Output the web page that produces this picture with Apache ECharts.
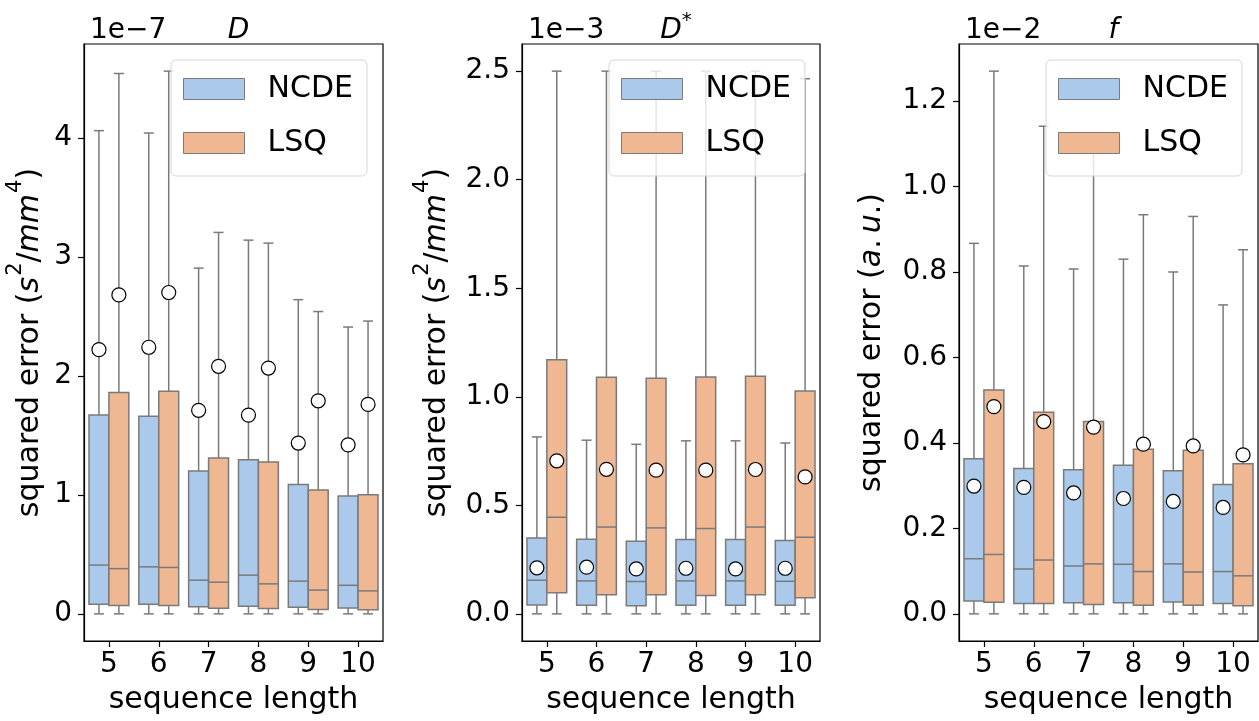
<!DOCTYPE html>
<html>
<head>
<meta charset="utf-8">
<script src="https://cdn.jsdelivr.net/npm/echarts@6/dist/echarts.min.js"></script>
<style>
html,body{margin:0;padding:0;background:#fff;}
#chart{width:1259px;height:721px;}
</style>
</head>
<body>
<div id="chart"></div>
<script>
// ---------------- data ----------------
const categories = ['5', '6', '7', '8', '9', '10'];
// each row: [lower whisker, Q1, median, Q3, upper whisker, mean]
// Panel D (units of 1e-7 s^2/mm^4)
const D_NCDE = [
  [0, 0.080, 0.410, 1.670, 4.060, 2.220],
  [0, 0.080, 0.395, 1.660, 4.040, 2.240],
  [0, 0.060, 0.283, 1.200, 2.905, 1.710],
  [0, 0.065, 0.325, 1.295, 3.140, 1.670],
  [0, 0.055, 0.275, 1.087, 2.640, 1.435],
  [0, 0.050, 0.240, 0.990, 2.410, 1.420]
];
const D_LSQ = [
  [0, 0.070, 0.380, 1.860, 4.540, 2.680],
  [0, 0.070, 0.390, 1.870, 4.560, 2.700],
  [0, 0.048, 0.266, 1.310, 3.205, 2.080],
  [0, 0.045, 0.252, 1.275, 3.115, 2.065],
  [0, 0.037, 0.200, 1.040, 2.540, 1.790],
  [0, 0.035, 0.193, 1.000, 2.460, 1.760]
];
// Panel D* (units of 1e-3 s^2/mm^4)
const Dstar_NCDE = [
  [0, 0.041, 0.155, 0.350, 0.815, 0.212],
  [0, 0.040, 0.152, 0.344, 0.800, 0.215],
  [0, 0.037, 0.149, 0.335, 0.781, 0.207],
  [0, 0.040, 0.152, 0.342, 0.797, 0.210],
  [0, 0.040, 0.152, 0.342, 0.797, 0.207],
  [0, 0.040, 0.150, 0.338, 0.787, 0.210]
];
const Dstar_LSQ = [
  [0, 0.097, 0.445, 1.171, 2.500, 0.705],
  [0, 0.088, 0.400, 1.090, 2.500, 0.666],
  [0, 0.088, 0.396, 1.085, 2.500, 0.662],
  [0, 0.085, 0.393, 1.091, 2.500, 0.662],
  [0, 0.088, 0.400, 1.094, 2.500, 0.665],
  [0, 0.074, 0.353, 1.027, 2.465, 0.631]
];
// Panel f (units of 1e-2 a.u.)
const f_NCDE = [
  [0, 0.030, 0.129, 0.363, 0.867, 0.299],
  [0, 0.024, 0.105, 0.340, 0.814, 0.296],
  [0, 0.026, 0.112, 0.337, 0.807, 0.283],
  [0, 0.026, 0.116, 0.348, 0.830, 0.270],
  [0, 0.028, 0.117, 0.335, 0.800, 0.263],
  [0, 0.024, 0.099, 0.303, 0.723, 0.249]
];
const f_LSQ = [
  [0, 0.027, 0.139, 0.524, 1.270, 0.485],
  [0, 0.024, 0.126, 0.472, 1.141, 0.450],
  [0, 0.022, 0.117, 0.450, 1.087, 0.437],
  [0, 0.020, 0.099, 0.385, 0.934, 0.397],
  [0, 0.020, 0.098, 0.383, 0.930, 0.393],
  [0, 0.019, 0.089, 0.351, 0.852, 0.372]
];
// tick labels
const D_ticks = [0, 1, 2, 3, 4];
const Dstar_ticks = [0, 0.5, 1.0, 1.5, 2.0, 2.5];
const f_ticks = [0, 0.2, 0.4, 0.6, 0.8, 1.0, 1.2];
const offsetTexts = ['1e\u22127', '1e\u22123', '1e\u22122'];
const seriesNames = ['NCDE', 'LSQ'];

// ---------------- style ----------------
const FONT = 'DejaVu Sans';
const BLUE = '#abc9ea';
const ORANGE = '#efb792';
const EDGE = '#7a7a7a';
const LW = 1.5;

function makeRender(offsetFrac, color) {
  return function (params, api) {
    const c = api.value(0);
    const band = api.size([1, 0])[0];
    const cx = api.coord([c, 0])[0] + offsetFrac * band;
    const w = 0.4 * band;
    const Y = i => api.coord([c, api.value(i)])[1];
    const yMin = Y(1), yQ1 = Y(2), yMed = Y(3), yQ3 = Y(4), yMax = Y(5), yMean = Y(6);
    const ls = { stroke: EDGE, lineWidth: LW };
    const cw = w * 0.25;
    return {
      type: 'group',
      children: [
        { type: 'line', shape: { x1: cx, y1: yQ3, x2: cx, y2: yMax }, style: ls },
        { type: 'line', shape: { x1: cx, y1: yQ1, x2: cx, y2: yMin }, style: ls },
        { type: 'line', shape: { x1: cx - cw, y1: yMax, x2: cx + cw, y2: yMax }, style: ls },
        { type: 'line', shape: { x1: cx - cw, y1: yMin, x2: cx + cw, y2: yMin }, style: ls },
        { type: 'rect', shape: { x: cx - w / 2, y: yQ3, width: w, height: yQ1 - yQ3 },
          style: { fill: color, stroke: EDGE, lineWidth: LW } },
        { type: 'line', shape: { x1: cx - w / 2, y1: yMed, x2: cx + w / 2, y2: yMed }, style: ls },
        { type: 'circle', shape: { cx: cx, cy: yMean, r: 7 },
          style: { fill: '#ffffff', stroke: '#000000', lineWidth: 1.2 } }
      ]
    };
  };
}

function toData(arr) {
  return arr.map((r, i) => [i].concat(r));
}

const panels = [
  { ncde: D_NCDE, lsq: D_LSQ, ticks: D_ticks, min: -0.228, max: 4.788, left: 84, width: 299,
    fmt: v => String(Math.round(v)), nameGap: 39, unit: 'sq' },
  { ncde: Dstar_NCDE, lsq: Dstar_LSQ, ticks: Dstar_ticks, min: -0.125, max: 2.625, left: 522, width: 298,
    fmt: v => v.toFixed(1), nameGap: 70, unit: 'sq' },
  { ncde: f_NCDE, lsq: f_LSQ, ticks: f_ticks, min: -0.0635, max: 1.3335, left: 959, width: 299,
    fmt: v => v.toFixed(1), nameGap: 72, unit: 'au' }
];

const nameRich = {
  n: { fontFamily: FONT, fontSize: 30, color: '#000', lineHeight: 40, verticalAlign: 'bottom' },
  i: { fontFamily: FONT, fontSize: 30, color: '#000', fontStyle: 'italic', lineHeight: 40, verticalAlign: 'bottom' },
  sup: { fontFamily: FONT, fontSize: 21, color: '#000', lineHeight: 40, verticalAlign: 'top', padding: [0, 0, 0, 1] }
};
const nameSq = '{n|squared error (}{i|s}{sup|2}{n|/}{i|mm}{sup|4}{n|)}';
const nameAu = '{n|squared error (}{i|a}{n|.\u2009}{i|u}{n|.)}';

const grids = [], xAxes = [], yAxes = [], series = [], legends = [], titles = [];
const titleTexts = ['{i|D}', '{i|D}{sup|*}', '{i|f}'];

panels.forEach((p, k) => {
  grids.push({ left: p.left, top: 44, width: p.width, height: 597, show: true,
    outerBoundsMode: 'none', containLabel: false,
    borderColor: '#000', borderWidth: 1.2, backgroundColor: 'transparent' });
  xAxes.push({
    type: 'category', gridIndex: k, data: categories, boundaryGap: true,
    axisLine: { show: true, onZero: false, lineStyle: { color: '#000', width: 1.2 } },
    axisTick: { show: true, alignWithLabel: true, length: 6, lineStyle: { color: '#000', width: 1.2 } },
    axisLabel: { fontFamily: FONT, fontSize: 28, color: '#000', margin: 10 },
    splitLine: { show: false },
    name: 'sequence length', nameLocation: 'middle', nameGap: 44,
    nameTextStyle: { fontFamily: FONT, fontSize: 30, color: '#000', verticalAlign: 'top' }
  });
  yAxes.push({
    type: 'value', gridIndex: k, min: p.min, max: p.max,
    axisLine: { show: true, lineStyle: { color: '#000', width: 1.2 } },
    axisTick: { show: true, length: 6, customValues: p.ticks, lineStyle: { color: '#000', width: 1.2 } },
    axisLabel: { fontFamily: FONT, fontSize: 28, color: '#000', margin: 12,
      customValues: p.ticks, formatter: p.fmt },
    splitLine: { show: false },
    name: p.unit === 'sq' ? nameSq : nameAu, nameLocation: 'middle', nameGap: p.nameGap, nameRotate: 90,
    nameTextStyle: { rich: nameRich }
  });
  series.push({
    name: seriesNames[0], type: 'custom', xAxisIndex: k, yAxisIndex: k,
    renderItem: makeRender(-0.2, BLUE), data: toData(p.ncde),
    encode: { x: 0, y: [1, 2, 3, 4, 5, 6] },
    itemStyle: { color: BLUE, borderColor: EDGE, borderWidth: 1 }, silent: true, animation: false
  });
  series.push({
    name: seriesNames[1], type: 'custom', xAxisIndex: k, yAxisIndex: k,
    renderItem: makeRender(0.2, ORANGE), data: toData(p.lsq),
    encode: { x: 0, y: [1, 2, 3, 4, 5, 6] },
    itemStyle: { color: ORANGE, borderColor: EDGE, borderWidth: 1 }, silent: true, animation: false
  });
  legends.push({
    orient: 'vertical', left: p.left + 87, top: 60,
    data: [
      { name: seriesNames[0], itemStyle: { color: BLUE, borderColor: EDGE, borderWidth: 1 } },
      { name: seriesNames[1], itemStyle: { color: ORANGE, borderColor: EDGE, borderWidth: 1 } }
    ],
    icon: 'rect', itemWidth: 61, itemHeight: 21, itemGap: 24,
    padding: [14, 14, 18, 12],
    backgroundColor: 'rgba(255,255,255,0.8)', borderColor: '#d6d6d6', borderWidth: 1, borderRadius: 5,
    textStyle: { fontFamily: FONT, fontSize: 30, color: '#000', padding: [0, 0, 0, 18], lineHeight: 21 },
    selectedMode: false
  });
  titles.push({
    text: offsetTexts[k], left: p.left + 1, top: 12,
    textStyle: { fontFamily: FONT, fontSize: 28, fontWeight: 'normal', color: '#000' }
  });
  titles.push({
    text: titleTexts[k], left: p.left + p.width / 2, top: 6, textAlign: 'center',
    textStyle: { fontWeight: 'normal', rich: {
      i: { fontFamily: FONT, fontSize: 28, fontStyle: 'italic', fontWeight: 'normal', color: '#000', lineHeight: 34, verticalAlign: 'bottom' },
      sup: { fontFamily: FONT, fontSize: 20, fontWeight: 'normal', color: '#000', lineHeight: 34, verticalAlign: 'top' }
    } }
  });
});

const chart = echarts.init(document.getElementById('chart'), null, { renderer: 'canvas' });
chart.setOption({
  backgroundColor: '#ffffff',
  animation: false,
  title: titles,
  legend: legends,
  grid: grids,
  xAxis: xAxes,
  yAxis: yAxes,
  series: series
});
</script>
</body>
</html>
